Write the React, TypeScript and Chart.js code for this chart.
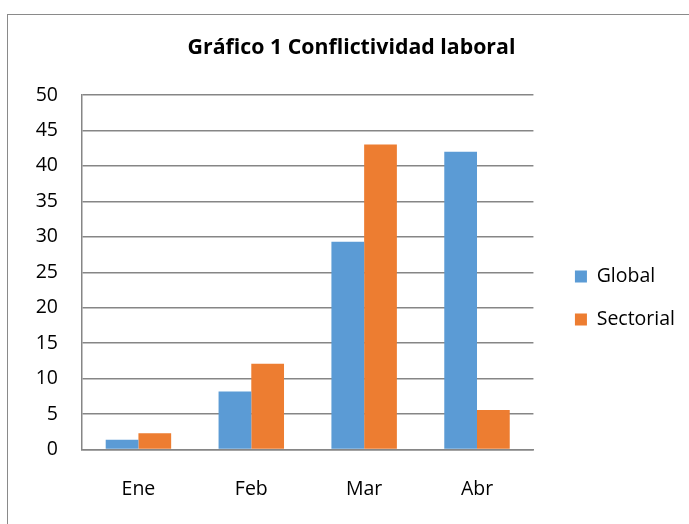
import React, { useEffect, useRef } from "react";
import { Chart, registerables } from "chart.js";

Chart.register(...registerables);

const categories = ["Ene", "Feb", "Mar", "Abr"];
const globalValues = [1.4, 8.2, 29.3, 42.0];
const sectorialValues = [2.3, 12.1, 43.0, 5.6];
const seriesNames = ["Global", "Sectorial"];
const titleText = "Gráfico 1 Conflictividad laboral";

const FONT = "'Open Sans', 'Noto Sans', sans-serif";

export default function App() {
  const ref = useRef<HTMLCanvasElement | null>(null);

  useEffect(() => {
    document.body.style.margin = "0";
    const ctx = ref.current;
    if (!ctx) return;
    const chart = new Chart(ctx, {
      type: "bar",
      data: {
        labels: categories,
        datasets: [
          {
            label: seriesNames[0],
            data: globalValues,
            backgroundColor: "#5B9BD5",
            borderWidth: 0,
            categoryPercentage: 0.58,
            barPercentage: 1,
          },
          {
            label: seriesNames[1],
            data: sectorialValues,
            backgroundColor: "#ED7D31",
            borderWidth: 0,
            categoryPercentage: 0.58,
            barPercentage: 1,
          },
        ],
      },
      options: {
        animation: false,
        responsive: false,
        maintainAspectRatio: false,
        layout: { padding: { top: 25, left: 18, right: 4, bottom: -5 } },
        plugins: {
          title: {
            display: true,
            text: titleText,
            color: "#000",
            font: { family: FONT, size: 21.3, weight: "bold" },
            padding: { top: 10, bottom: 34.4 },
          },
          legend: {
            display: true,
            position: "right",
            align: "center",
            title: {
              display: true,
              text: " ",
              font: { family: FONT, size: 10 },
              padding: { top: 30, bottom: 0 },
            },
            labels: {
              color: "#000",
              font: { family: FONT, size: 19.5 },
              boxWidth: 12,
              boxHeight: 12,
              padding: 23.5,
            },
          },
          tooltip: { enabled: false },
        },
        scales: {
          x: {
            grid: { display: false, drawTicks: false },
            border: { display: true, color: "#868686", width: 1.5 },
            ticks: {
              color: "#000",
              font: { family: FONT, size: 19.5 },
              padding: 28,
            },
          },
          y: {
            min: 0,
            max: 50,
            grid: { color: "#868686", lineWidth: 1.5, drawTicks: false },
            border: { display: true, color: "#868686", width: 1.5 },
            ticks: {
              stepSize: 5,
              color: "#000",
              font: { family: FONT, size: 19.5 },
              padding: 24,
            },
            afterFit: (scale: any) => {
              scale.width = 64;
            },
          },
          gap: {
            type: "linear",
            position: "right",
            display: false,
            afterFit: (scale: any) => {
              scale.width = 18;
            },
          },
        },
      },
    });
    return () => chart.destroy();
  }, []);

  return (
    <div style={{ position: "relative", width: 689, height: 524, overflow: "hidden", background: "#fff" }}>
      <div
        style={{
          position: "absolute",
          left: 7,
          top: 14,
          width: 720,
          height: 560,
          border: "1.5px solid #8a8a8a",
          boxSizing: "border-box",
        }}
      />
      <canvas ref={ref} width={689} height={524} style={{ position: "absolute", left: 0, top: 0 }} />
    </div>
  );
}
